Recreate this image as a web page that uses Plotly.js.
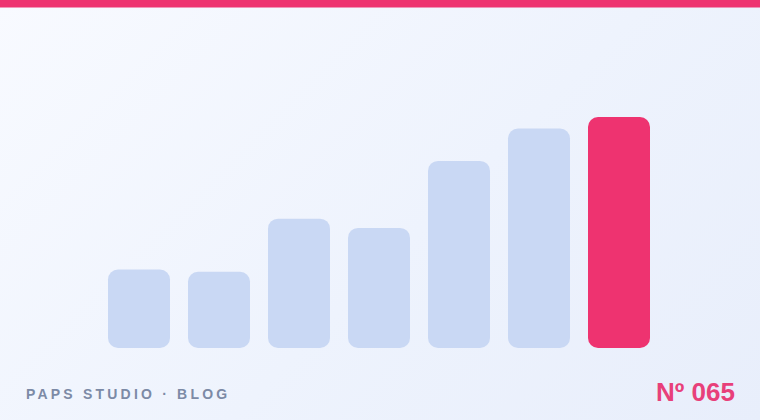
<!DOCTYPE html>
<html>
<head>
<meta charset="utf-8">
<script src="https://cdn.plot.ly/plotly-3.0.1.min.js"></script>
<style>
  html, body { margin: 0; padding: 0; }
  #chart {
    width: 760px; height: 420px;
    background: linear-gradient(135deg, #f8faff 0%, #eef3fd 55%, #e8eefb 100%);
  }
</style>
</head>
<body>
<div id="chart"></div>
<script>
// valeurs (la derniere barre = 100)
const categories = ['1', '2', '3', '4', '5', '6', '7'];
const values = [34, 33, 56, 52, 81, 95, 100];
const highlight = 6; // index de la barre rose

const brandText = 'PAPS STUDIO · BLOG';
const issueText = 'Nº 065';

const PINK = '#ee3370';
const LIGHT = '#c9d8f4';

const colors = values.map((v, i) => i === highlight ? PINK : LIGHT);

// base explicite -> coins arrondis aux deux bouts
const bars = {
  x: categories.map((c, i) => i),
  y: values,
  base: values.map(() => 0),
  type: 'bar',
  width: 0.775,
  marker: { color: colors, cornerradius: 10, line: { width: 0 } },
  hoverinfo: 'skip'
};

const layout = {
  width: 760,
  height: 420,
  margin: { l: 0, r: 0, t: 0, b: 0 },
  paper_bgcolor: 'rgba(0,0,0,0)',
  plot_bgcolor: 'rgba(0,0,0,0)',
  showlegend: false,
  font: { family: 'Liberation Sans, Arial, sans-serif' },
  xaxis: { range: [-1.7375, 7.7625], visible: false, fixedrange: true },
  yaxis: { range: [-31.17, 150.65], visible: false, fixedrange: true },
  shapes: [{
    type: 'rect', xref: 'paper', yref: 'paper',
    x0: 0, x1: 1, y0: 1 - 7.5 / 420, y1: 1,
    fillcolor: PINK, line: { width: 0 }
  }],
  annotations: [
    {
      text: brandText, xref: 'paper', yref: 'paper',
      x: 26 / 760, y: 1 - 394 / 420, xanchor: 'left', yanchor: 'middle',
      showarrow: false,
      font: { size: 14, color: '#7c8aa6', weight: 700 }
    },
    {
      text: issueText, xref: 'paper', yref: 'paper',
      x: 737 / 760, y: 1 - 392 / 420, xanchor: 'right', yanchor: 'middle',
      showarrow: false,
      font: { size: 26, color: '#e8407a', weight: 700 }
    }
  ]
};

Plotly.newPlot('chart', [bars], layout, { staticPlot: true, displayModeBar: false }).then(() => {
  // espacement des lettres du libelle (pas d'option plotly pour ca),
  // puis on recale le bord gauche a 26px
  const el = document.querySelector('.annotation[data-index="0"] .annotation-text');
  if (!el) return;
  el.style.letterSpacing = '3.2px';
  const box = document.getElementById('chart').getBoundingClientRect();
  const r = el.getBoundingClientRect();
  const dx = 26 - (r.left - box.left);
  el.setAttribute('transform', 'translate(' + dx + ',0)');
});
</script>
</body>
</html>
